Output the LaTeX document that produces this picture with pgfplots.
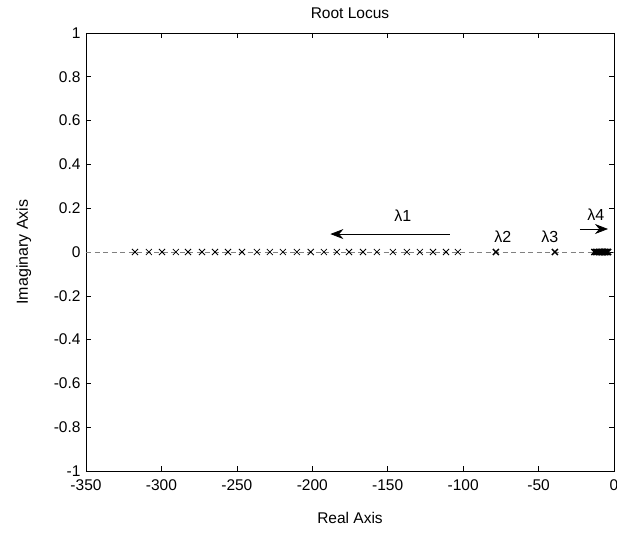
\documentclass[border=0pt]{standalone}
\usepackage{pgfplots}
\pgfplotsset{compat=1.18}
\usepackage{fontspec}
\setmainfont{Liberation Sans}
\usetikzlibrary{arrows.meta}
\begin{document}
\begin{tikzpicture}
\begin{axis}[
  name=ax,
  at={(0pt,0pt)}, anchor=south west,
  scale only axis,
  width=528pt, height=438pt,
  xmin=-350, xmax=0, ymin=-1, ymax=1,
  xtick={-350,-300,-250,-200,-150,-100,-50,0},
  xticklabels={-350,-300,-250,-200,-150,-100,-50,0},
  ytick={-1,-0.8,-0.6,-0.4,-0.2,0,0.2,0.4,0.6,0.8,1},
  yticklabels={-1,-0.8,-0.6,-0.4,-0.2,0,0.2,0.4,0.6,0.8,1},
  tick align=inside,
  major tick length=5pt,
  tick style={black, line width=0.6pt},
  axis line style={black, line width=0.8pt},
  ticklabel style={font=\fontsize{15.5}{18}\selectfont},
  xticklabel style={yshift=-5pt},
  yticklabel style={xshift=-2pt},
  clip=false,
]
% dashed zero line
\addplot[gray, dashed, dash pattern=on 5pt off 3.5pt, line width=0.7pt] coordinates {(-350,0) (0,0)};
% lambda 1 branch
\addplot[only marks, mark=x, mark size=4.3pt, mark options={line width=0.8pt, black}] coordinates {
(-317.5,0) (-308.3,0) (-299.6,0) (-290.4,0) (-282.4,0) (-273.1,0) (-264.5,0) (-255.9,0)
(-246.6,0) (-236.7,0) (-228.1,0) (-219.5,0) (-210.2,0) (-201.0,0) (-192.3,0) (-183.7,0)
(-175.7,0) (-166.4,0) (-157.2,0) (-146.6,0) (-137.3,0) (-128.7,0) (-120.0,0) (-111.4,0) (-103.5,0)
};
% lambda 2, lambda 3
\addplot[only marks, mark=x, mark size=4.3pt, mark options={line width=1.5pt, black}] coordinates {
(-78.3,0) (-39.2,0)
};
% lambda 4 cluster
\addplot[only marks, mark=x, mark size=4.3pt, mark options={line width=1.5pt, black}] coordinates {
(-13,0) (-12,0) (-11,0) (-10,0) (-9,0) (-8,0) (-7,0) (-6,0) (-5,0) (-4,0)
};
% arrows and labels
\draw[-{Stealth[length=13pt,width=10pt]}, line width=0.7pt] (axis cs:-108.8,0.082) -- (axis cs:-188,0.082);
\draw[-{Stealth[length=13pt,width=10pt]}, line width=0.7pt] (axis cs:-22.6,0.105) -- (axis cs:-4,0.105);
\node[font=\fontsize{16}{18}\selectfont] at (axis cs:-140,0.165) {λ1};
\node[font=\fontsize{16}{18}\selectfont] at (axis cs:-73.7,0.07) {λ2};
\node[font=\fontsize{16}{18}\selectfont] at (axis cs:-42.5,0.07) {λ3};
\node[font=\fontsize{16}{18}\selectfont] at (axis cs:-12,0.17) {λ4};
\end{axis}
\node[anchor=base, font=\fontsize{15.5}{18}\selectfont] at ([yshift=14pt]ax.north) {Root Locus};
\node[anchor=base, font=\fontsize{15.5}{18}\selectfont] at ([yshift=-52pt]ax.south) {Real Axis};
\node[anchor=base, rotate=90, font=\fontsize{16}{18}\selectfont] at ([xshift=-58pt]ax.west) {Imaginary Axis};
\pgfresetboundingbox
\path[use as bounding box] (-86pt,-62pt) rectangle (531pt,471pt);
\end{tikzpicture}
\end{document}
